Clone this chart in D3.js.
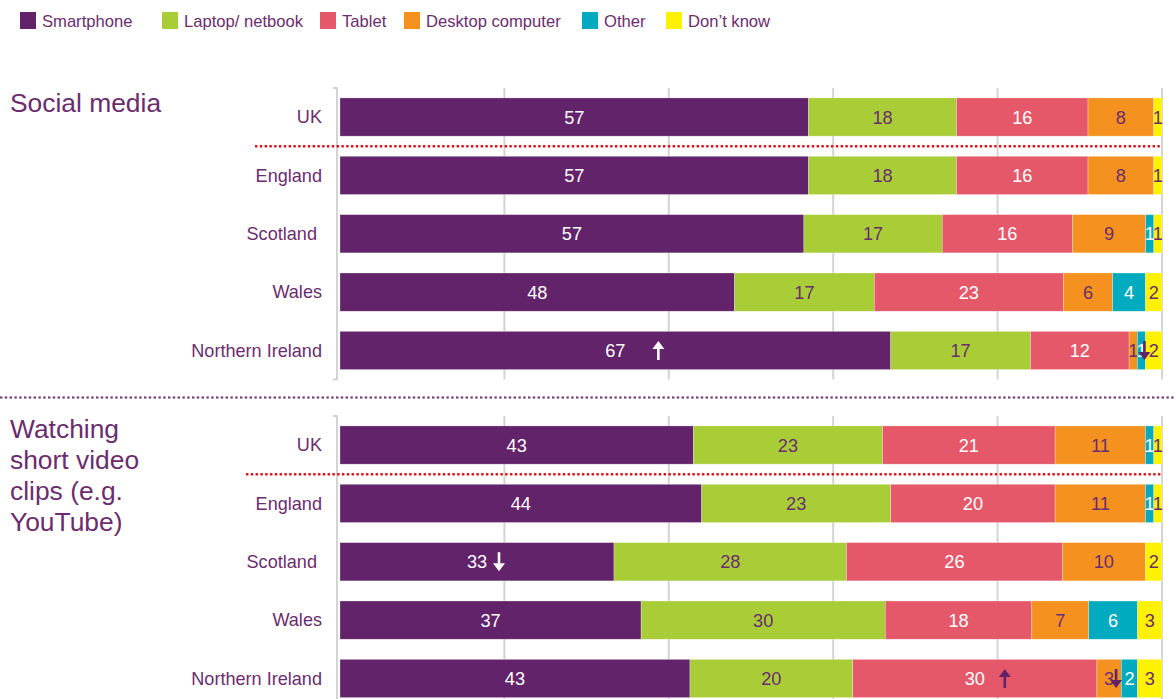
<!DOCTYPE html>
<html>
<head>
<meta charset="utf-8">
<script src="https://cdn.jsdelivr.net/npm/d3@7"></script>
<style>
  html, body { margin: 0; padding: 0; background: #fff; }
  svg { display: block; font-family: "Liberation Sans", Arial, sans-serif; }
  .nation { white-space: pre; }
</style>
</head>
<body>
<svg id="chart" width="1176" height="699"></svg>
<script>
// Devices used for each online activity, by nation (% of users)
const deviceSeries = ["Smartphone", "Laptop/ netbook", "Tablet", "Desktop computer", "Other", "Don’t know"];
const deviceColors = ["#62236a", "#a8cd36", "#e5586a", "#f5921f", "#00abbf", "#fff200"];
const labelColors  = ["#ffffff", "#6b2d6e", "#ffffff", "#6b2d6e", "#ffffff", "#6b2d6e"];
const nations = ["UK", "England", "Scotland ", "Wales", "Northern Ireland"];

const socialMediaValues = [
  [57, 18, 16, 8, 0, 1],
  [57, 18, 16, 8, 0, 1],
  [57, 17, 16, 9, 1, 1],
  [48, 17, 23, 6, 4, 2],
  [67, 17, 12, 1, 1, 2]
];
const videoClipValues = [
  [43, 23, 21, 11, 1, 1],
  [44, 23, 20, 11, 1, 1],
  [33, 28, 26, 10, 0, 2],
  [37, 30, 18, 7, 6, 3],
  [43, 20, 30, 3, 2, 3]
];

const activityTitles = [
  ["Social media"],
  ["Watching", "short video", "clips (e.g.", "YouTube)"]
];

// Significant changes flagged with arrows: [activity, nation, device, direction]
const changeArrows = [
  [0, "Northern Ireland", "Smartphone", "up"],
  [0, "Northern Ireland", "Other", "down"],
  [1, "Scotland ", "Smartphone", "down"],
  [1, "Northern Ireland", "Tablet", "up"],
  [1, "Northern Ireland", "Desktop computer", "down"]
];

// ---- layout ----
const svg = d3.select("#chart");
const purple = "#6b2d6e";
const gridColor = "#d4d4d4";
const panels = [
  { values: socialMediaValues, top: 88, bottom: 379.5, titleY: 112, ukLineX: 255 },
  { values: videoClipValues,   top: 416, bottom: 707.5, titleY: 438, ukLineX: 246 }
];
const arrowNudge = [[43, 3], [22, 30, 7]];

const x = d3.scaleLinear().domain([0, 1]).range([340, 1162]);
const color = d3.scaleOrdinal().domain(deviceSeries).range(deviceColors);
const textColor = d3.scaleOrdinal().domain(deviceSeries).range(labelColors);

// ---- legend ----
const legendX = [20, 162, 320, 404, 582, 666];
const legend = svg.append("g");
deviceSeries.forEach((s, i) => {
  const g = legend.append("g").attr("transform", `translate(${legendX[i]},12)`);
  g.append("rect").attr("width", 16).attr("height", 17).attr("fill", color(s));
  g.append("text").attr("x", 22).attr("y", 15)
    .attr("font-size", 16.6).attr("fill", purple).text(s);
});

// ---- separator between activities ----
svg.append("line")
  .attr("x1", 0).attr("x2", 1176).attr("y1", 397.5).attr("y2", 397.5)
  .attr("stroke", purple).attr("stroke-width", 2.2).attr("stroke-dasharray", "2.4,2.4");

panels.forEach((p, pi) => {
  const g = svg.append("g");
  const y = d3.scaleBand().domain(nations).range([p.top, p.bottom]).paddingInner(0.345).paddingOuter(0.17);

  // activity title
  const title = g.append("text").attr("x", 10).attr("y", p.titleY)
    .attr("font-size", 26.4).attr("fill", purple);
  activityTitles[pi].forEach((line, li) => {
    title.append("tspan").attr("x", 10).attr("dy", li === 0 ? 0 : 31).text(line);
  });

  // gridlines
  g.append("g").selectAll("line")
    .data(x.ticks(5).filter(t => t > 0))
    .join("line")
    .attr("x1", d => x(d)).attr("x2", d => x(d))
    .attr("y1", p.top).attr("y2", p.bottom)
    .attr("stroke", gridColor).attr("stroke-width", 2);

  // left axis bracket
  g.append("path")
    .attr("d", `M333,${p.top}H337V${p.bottom}H333`)
    .attr("fill", "none").attr("stroke", gridColor).attr("stroke-width", 2);

  // nation labels
  g.append("g").selectAll("text")
    .data(nations)
    .join("text")
    .attr("class", "nation")
    .attr("x", 322)
    .attr("y", d => y(d) + y.bandwidth() / 2)
    .attr("dy", "0.35em")
    .attr("text-anchor", "end")
    .attr("font-size", 18.1)
    .attr("fill", purple)
    .text(d => d);

  // stacked bars
  const rows = nations.map((n, i) => {
    const r = { nation: n };
    deviceSeries.forEach((s, j) => r[s] = p.values[i][j]);
    return r;
  });
  const stacked = d3.stack().keys(deviceSeries).offset(d3.stackOffsetExpand)(rows);

  const layers = g.append("g").selectAll("g")
    .data(stacked)
    .join("g")
    .attr("fill", d => color(d.key));

  layers.selectAll("rect")
    .data(d => d.map(v => ({ key: d.key, v })))
    .join("rect")
    .attr("x", d => x(d.v[0]))
    .attr("y", d => y(d.v.data.nation))
    .attr("width", d => Math.max(0, x(d.v[1]) - x(d.v[0])))
    .attr("height", y.bandwidth())
    .attr("stroke", "#ffffff").attr("stroke-opacity", 0.45).attr("stroke-width", 0.6);

  layers.selectAll("text")
    .data(d => d.map(v => ({ key: d.key, v })).filter(d => d.v.data[d.key] > 0))
    .join("text")
    .attr("x", d => (x(d.v[0]) + x(d.v[1])) / 2)
    .attr("y", d => y(d.v.data.nation) + y.bandwidth() / 2)
    .attr("dy", "0.36em")
    .attr("text-anchor", "middle")
    .attr("font-size", 18.2)
    .attr("fill", d => textColor(d.key))
    .text(d => d.v.data[d.key]);

  // UK vs nations divider
  const ukY = y("UK") + y.bandwidth() + (y.step() - y.bandwidth()) / 2;
  g.append("line")
    .attr("x1", p.ukLineX).attr("x2", 1162).attr("y1", ukY).attr("y2", ukY)
    .attr("stroke", "#d7141a").attr("stroke-width", 2.4).attr("stroke-dasharray", "2.4,2.4");

  // change arrows
  const arrows = changeArrows.filter(a => a[0] === pi);
  arrows.forEach((a, ai) => {
    const layer = stacked.find(l => l.key === a[2]);
    const v = layer[nations.indexOf(a[1])];
    const cx = (x(v[0]) + x(v[1])) / 2 + arrowNudge[pi][ai];
    const cy = y(a[1]) + y.bandwidth() / 2;
    const fill = a[2] === "Smartphone" ? "#ffffff" : "#62236a";
    const s = a[3] === "up" ? -1 : 1;
    const tip = cy + s * 9.5, tail = cy - s * 9.5, base = tip - s * 8;
    const ag = g.append("g");
    ag.append("line").attr("x1", cx).attr("x2", cx).attr("y1", tail).attr("y2", base)
      .attr("stroke", fill).attr("stroke-width", 2.6);
    ag.append("path")
      .attr("d", `M${cx},${tip}L${cx - 6},${base}L${cx + 6},${base}Z`)
      .attr("fill", fill);
  });
});
</script>
</body>
</html>
